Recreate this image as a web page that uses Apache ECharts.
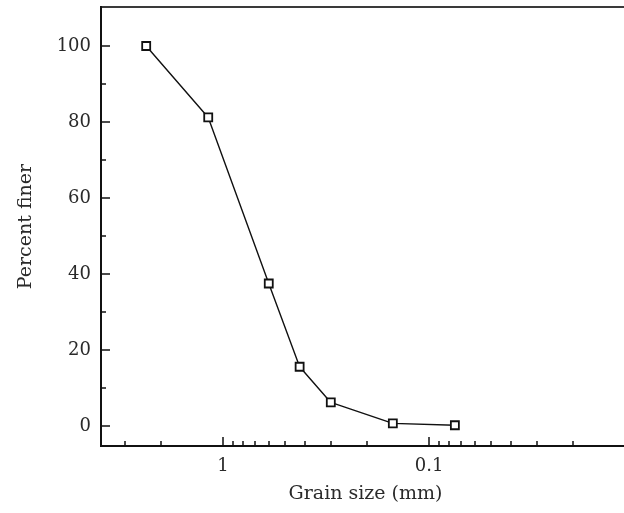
<!DOCTYPE html>
<html>
<head>
<meta charset="utf-8">
<script src="https://cdn.jsdelivr.net/npm/echarts@6/dist/echarts.min.js"></script>
<style>
  html, body { margin: 0; padding: 0; background: #fff; }
  #chart { width: 624px; height: 513px; }
</style>
</head>
<body>
<div id="chart"></div>
<script>
// Sieve analysis: grain size (mm) vs cumulative percent finer
const grainSize    = [2.36, 1.18, 0.6, 0.425, 0.3, 0.15, 0.075];
const percentFiner = [100, 81.2, 37.5, 15.6, 6.2, 0.7, 0.2];

// Tick positions
const xMajorTicks = [1, 0.1];
const xMinorTicks = [3, 2, 0.9, 0.8, 0.7, 0.6, 0.5, 0.4, 0.3, 0.2,
                     0.09, 0.08, 0.07, 0.06, 0.05, 0.04, 0.03, 0.02];
const yMajorTicks = [0, 20, 40, 60, 80, 100];
const yMinorTicks = [10, 30, 50, 70, 90];

const X_MIN = 0.0106, X_MAX = 3.91;
const Y_MIN = -5.26, Y_MAX = 110.26;

const FONT = 'DejaVu Serif';
const TEXT = '#2a2a2a';

const chart = echarts.init(document.getElementById('chart'), null, { renderer: 'canvas' });

const points = grainSize.map((g, i) => [g, percentFiner[i]]);

const baseX = {
  type: 'log',
  logBase: 10,
  inverse: true,
  min: X_MIN,
  max: X_MAX,
  splitLine: { show: false },
  axisLine: { show: true, onZero: false, lineStyle: { color: '#111', width: 2 } }
};
const baseY = {
  type: 'value',
  min: Y_MIN,
  max: Y_MAX,
  splitLine: { show: false },
  axisLine: { show: true, onZero: false, lineStyle: { color: '#111', width: 2 } }
};

chart.setOption({
  animation: false,
  backgroundColor: '#fff',
  grid: {
    left: 101, right: -6, top: 7, bottom: 67,
    outerBoundsMode: 'none',
    show: true, borderColor: '#3a3a3a', borderWidth: 2, backgroundColor: 'transparent'
  },
  xAxis: [
    Object.assign({}, baseX, {
      position: 'bottom',
      name: 'Grain size (mm)',
      nameLocation: 'middle',
      nameGap: 39,
      nameTextStyle: { fontFamily: FONT, fontSize: 19, color: TEXT },
      axisTick: { show: true, inside: true, length: 9, customValues: xMajorTicks,
                  lineStyle: { color: '#111', width: 1.5 } },
      axisLabel: { show: true, margin: 11, customValues: xMajorTicks,
                   fontFamily: FONT, fontSize: 18, color: TEXT,
                   formatter: v => String(+v.toPrecision(3)) }
    }),
    Object.assign({}, baseX, {
      position: 'bottom',
      axisTick: { show: true, inside: true, length: 5, customValues: xMinorTicks,
                  lineStyle: { color: '#111', width: 1.5 } },
      axisLabel: { show: false }
    })
  ],
  yAxis: [
    Object.assign({}, baseY, {
      position: 'left',
      name: 'Percent finer',
      nameLocation: 'middle',
      nameGap: 65,
      nameRotate: 90,
      nameTextStyle: { fontFamily: FONT, fontSize: 19, color: TEXT },
      axisTick: { show: true, inside: true, length: 9, customValues: yMajorTicks,
                  lineStyle: { color: '#111', width: 1.5 } },
      axisLabel: { show: true, margin: 10, customValues: yMajorTicks,
                   fontFamily: FONT, fontSize: 18, color: TEXT }
    }),
    Object.assign({}, baseY, {
      position: 'left',
      axisTick: { show: true, inside: true, length: 5, customValues: yMinorTicks,
                  lineStyle: { color: '#111', width: 1.5 } },
      axisLabel: { show: false }
    })
  ],
  series: [{
    type: 'line',
    xAxisIndex: 0,
    yAxisIndex: 0,
    data: points,
    lineStyle: { color: '#111', width: 1.4 },
    symbol: 'rect',
    symbolSize: 8,
    showAllSymbol: true,
    itemStyle: { color: '#fff', borderColor: '#111', borderWidth: 1.8 },
    z: 3
  }]
});
</script>
</body>
</html>
